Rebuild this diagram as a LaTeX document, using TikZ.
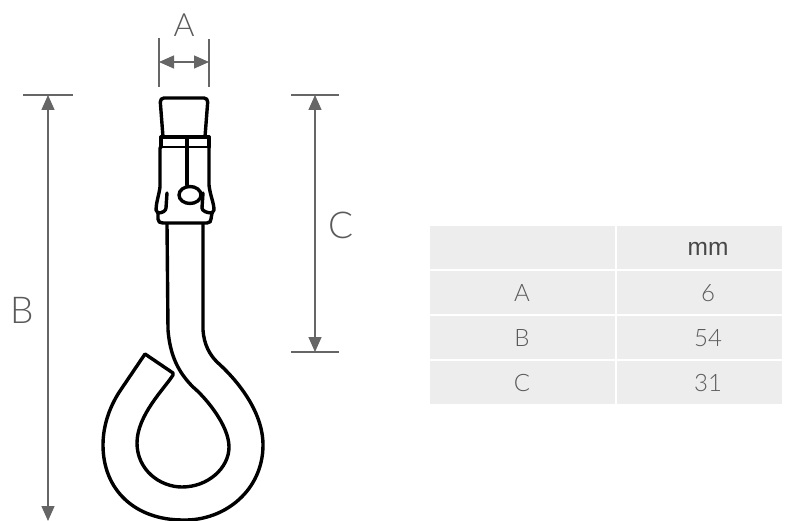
\documentclass[tikz,border=0pt]{standalone}
\usepackage{fontspec}
\setmainfont{Liberation Sans}
\newfontfamily\lightfont{Lato Light}
\usetikzlibrary{arrows.meta}
\definecolor{dimgray}{HTML}{666666}
\definecolor{cellgray}{HTML}{EDEDED}
\definecolor{txtgray}{HTML}{5A5A5A}
\tikzset{
  part/.style={draw=black,line width=3.4pt,line join=round,line cap=round,fill=none},
  dimline/.style={draw=dimgray,line width=1.3pt},
  dimarrow/.style={draw=dimgray,line width=1.3pt,{Triangle[length=15pt,width=13pt]}-{Triangle[length=15pt,width=13pt]}},
  biglabel/.style={text=txtgray,font=\lightfont\fontsize{37}{37}\selectfont,inner sep=0pt},
  cell/.style={fill=cellgray,draw=none,minimum height=43pt,inner sep=0pt},
  leftcell/.style={cell,minimum width=185pt},
  rightcell/.style={cell,minimum width=165pt},
  celltext/.style={text=txtgray,font=\lightfont\fontsize{24}{24}\selectfont,inner sep=0pt},
}
\begin{document}
\begin{tikzpicture}[x=1pt,y=-1pt]
\useasboundingbox (0,0) rectangle (795,521);
% dimension coordinates
\coordinate (a1t) at (159,38); \coordinate (a1b) at (159,87);
\coordinate (a2t) at (209,39); \coordinate (a2b) at (209,87);
\coordinate (al) at (159,62); \coordinate (ar) at (209,62);
\coordinate (b1l) at (23,95); \coordinate (b1r) at (73,95);
\coordinate (bt) at (48,95); \coordinate (bb) at (48,521);
\coordinate (c1l) at (291,95); \coordinate (c1r) at (339,95);
\coordinate (c2l) at (291,352); \coordinate (c2r) at (339,352);
\coordinate (ct) at (315,95); \coordinate (cb) at (315,352);
\draw[dimline] (a1t) -- (a1b);
\draw[dimline] (a2t) -- (a2b);
\draw[dimarrow] (al) -- (ar);
\draw[dimline] (b1l) -- (b1r);
\draw[dimarrow] (bt) -- (bb);
\draw[dimline] (c1l) -- (c1r);
\draw[dimline] (c2l) -- (c2r);
\draw[dimarrow] (ct) -- (cb);
\node[biglabel,font=\lightfont\fontsize{32}{32}\selectfont] (la) at (184,25) {A};
\node[biglabel] (lb) at (22,310) {B};
\node[biglabel] (lc) at (341,225) {C};
% hook head
\draw[part,rounded corners=4pt] (163,137) -- (160,98) -- (208,98) -- (205,137);
\draw[part] (161,137) -- (209,137);
\draw[part] (161,137) -- (161,147);
\draw[part] (209,137) -- (209,147);
\draw[part,line width=1.6pt] (161,147) -- (209,147);
\draw[part] (187,137) -- (187,185);
\draw[part] (190,195) ellipse [x radius=11,y radius=8.5];
\draw[part] (161,147) -- (160,148) -- (160,187) .. controls (159,195) and (156,203) .. (156,210) -- (158,213);
\draw[part] (209,147) -- (209,185) .. controls (210,195) and (214,203) .. (214,210) -- (212,213);
\draw[part] (158,213) -- (158,219) .. controls (158,222) and (160,223) .. (163,223) -- (207,223) .. controls (210,223) and (211,221) .. (211,219) -- (212,213);
\draw[part] (167,193) -- (166,208) .. controls (166,211) and (162,213) .. (158,213);
\draw[part] (203,193) -- (202,208) .. controls (202,211) and (207,213) .. (212,213);
% hook body
\draw[part] (203,224) -- (203,330) .. controls (204,345) and (210,355) .. (217,362) .. controls (235,378) and (263,410) .. (263,445) .. controls (263,490) and (225,521) .. (183,520) .. controls (135,520) and (103,490) .. (103,445) .. controls (103,425) and (110,405) .. (122,388) -- (145,354) -- (173,373) -- (173,375) .. controls (165,388) and (137,415) .. (137,443) .. controls (137,470) and (160,487) .. (182,487) .. controls (208,487) and (229,468) .. (229,447) .. controls (229,425) and (205,397) .. (193,387) .. controls (178,372) and (170,355) .. (168,330) -- (167,224);
% table
\node[leftcell] (c00) at (522.5,247.5) {};
\node[rightcell] (c01) at (699.5,247.5) {};
\node[leftcell] (c10) at (522.5,292.5) {};
\node[rightcell] (c11) at (699.5,292.5) {};
\node[leftcell] (c20) at (522.5,337.5) {};
\node[rightcell] (c21) at (699.5,337.5) {};
\node[leftcell] (c30) at (522.5,382.5) {};
\node[rightcell] (c31) at (699.5,382.5) {};
\node[text=black!72,font=\fontsize{24.5}{24.5}\selectfont,inner sep=0pt] (tmm) at (708,249) {mm};
\node[celltext] (ta) at (522,293) {A};
\node[celltext] (tb) at (522,338) {B};
\node[celltext] (tc) at (522,383) {C};
\node[celltext] (t6) at (708,293) {6};
\node[celltext] (t54) at (708,338) {54};
\node[celltext] (t31) at (708,383) {31};
\end{tikzpicture}
\end{document}
